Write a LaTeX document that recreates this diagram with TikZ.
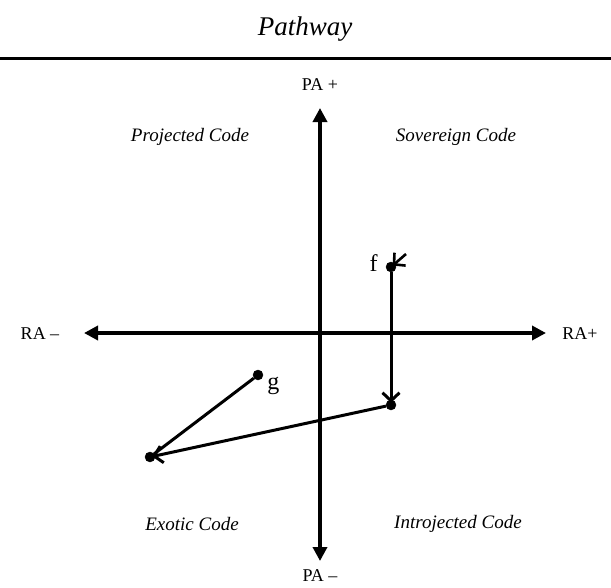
\documentclass[tikz,border=0pt]{standalone}
\usepackage{fontspec}
\setmainfont{Liberation Serif}
\usetikzlibrary{arrows.meta}
\usetikzlibrary{positioning}
\tikzstyle{dot} = [draw, fill=black, circle, inner sep=0pt, minimum size=10pt]
\tikzstyle{axis} = [line width=3.6pt, {Triangle[length=14pt,width=14pt]}-{Triangle[length=14pt,width=14pt]}]
\tikzstyle{move} = [line width=3pt, -{Straight Barb[length=8pt,width=17pt]}, shorten >=-3pt]
\tikzstyle{quad} = [font=\fontsize{19}{22}\selectfont\itshape]
\tikzstyle{ax} = [font=\fontsize{18}{21}\selectfont]
\tikzstyle{pt} = [font=\fontsize{24}{28}\selectfont, inner sep=1pt]

\begin{document}
\begin{tikzpicture}[x=1pt,y=-1pt]
    \useasboundingbox (0,0) rectangle (611,587);

    \node (title) at (305,29) {\fontsize{27}{32}\selectfont\itshape Pathway};
    \coordinate (ruleL) at (0,58);
    \coordinate (ruleR) at (611,58);
    \draw[line width=3pt] (ruleL) -- (ruleR);

    \coordinate (top) at (320,108);
    \coordinate (bot) at (320,561);
    \coordinate (lft) at (84,333);
    \coordinate (rgt) at (546,333);
    \draw[axis] (bot) -- (top);
    \draw[axis] (lft) -- (rgt);

    \node[ax] (PAp) at (320,85) {PA +};
    \node[ax] (PAm) at (320,576) {PA –};
    \node[ax] (RAm) at (40,334) {RA –};
    \node[ax] (RAp) at (580,334) {RA+};

    \node[quad] (proj) at (190,137) {Projected Code};
    \node[quad] (sov) at (456,137) {Sovereign Code};
    \node[quad] (exo) at (192,524) {Exotic Code};
    \node[quad] (intro) at (458,524) {Introjected Code};

    \node[dot] (f) at (391,267) {};
    \node[dot] (p) at (391,405) {};
    \node[dot] (q) at (150,457) {};
    \node[dot] (g) at (258,375) {};
    \node[pt, left=7pt of f, yshift=4pt] (flab) {f};
    \node[pt, right=3pt of g, yshift=-11pt] (glab) {g};

    \coordinate (fs) at (406,254);
    \draw[move, line width=2.6pt] (fs) -- (f);

    \draw[move] (f) -- (p);
    \draw[move] (p) -- (q);
    \draw[line width=3pt] (g) -- (q);
\end{tikzpicture}
\end{document}
